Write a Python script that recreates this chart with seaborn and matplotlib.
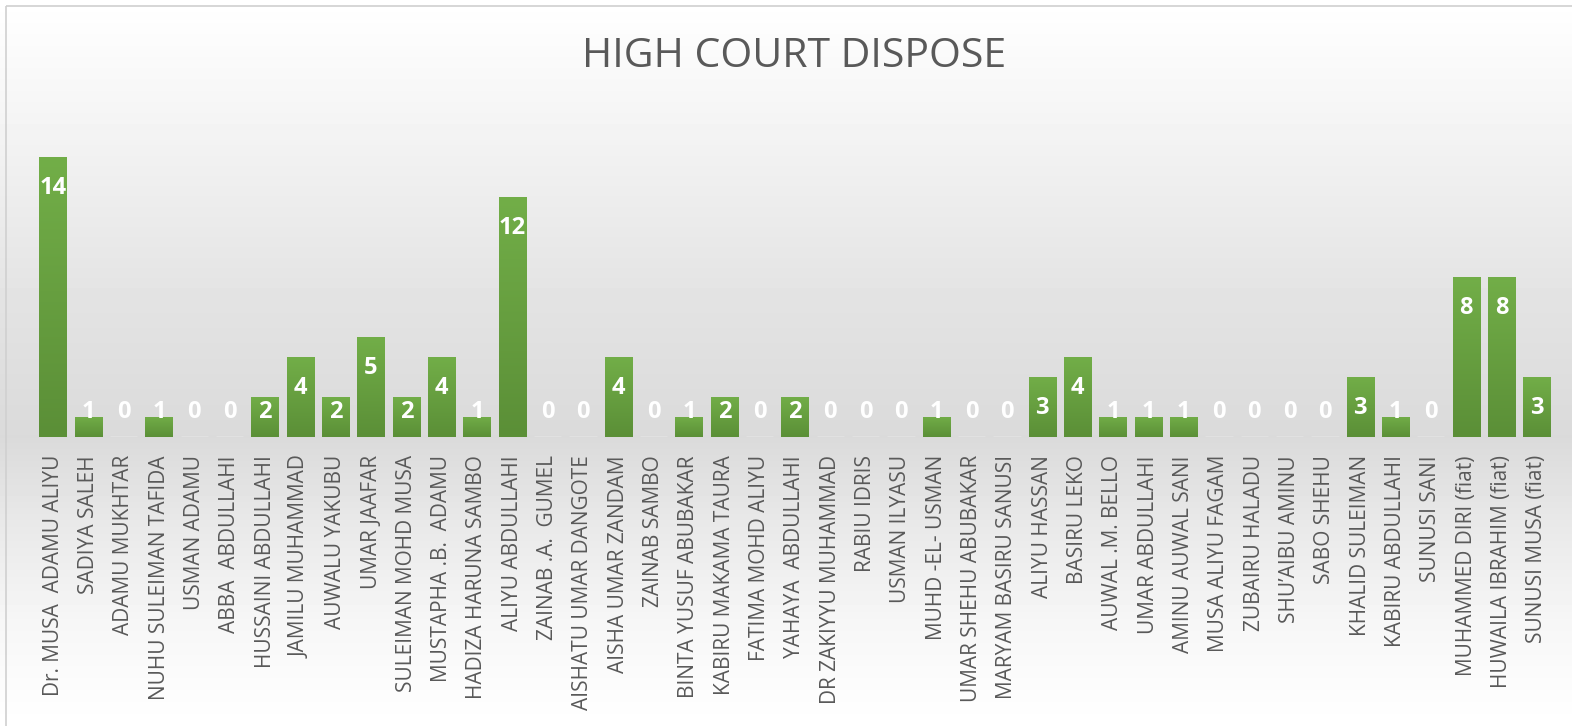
import numpy as np
import matplotlib
matplotlib.use("Agg")
import matplotlib.pyplot as plt
import seaborn as sns
from matplotlib.colors import LinearSegmentedColormap
from matplotlib.patches import Rectangle

judges = [
    "Dr. MUSA  ADAMU ALIYU", "SADIYA SALEH", "ADAMU MUKHTAR", "NUHU SULEIMAN TAFIDA",
    "USMAN ADAMU", "ABBA  ABDULLAHI", "HUSSAINI ABDULLAHI", "JAMILU MUHAMMAD",
    "AUWALU YAKUBU", "UMAR JAAFAR", "SULEIMAN MOHD MUSA", "MUSTAPHA .B.  ADAMU",
    "HADIZA HARUNA SAMBO", "ALIYU ABDULLAHI", "ZAINAB .A.  GUMEL", "AISHATU UMAR DANGOTE",
    "AISHA UMAR ZANDAM", "ZAINAB SAMBO", "BINTA YUSUF ABUBAKAR", "KABIRU MAKAMA TAURA",
    "FATIMA MOHD ALIYU", "YAHAYA  ABDULLAHI", "DR ZAKIYYU MUHAMMAD", "RABIU IDRIS",
    "USMAN ILYASU", "MUHD -EL- USMAN", "UMAR SHEHU ABUBAKAR", "MARYAM BASIRU SANUSI",
    "ALIYU HASSAN", "BASIRU LEKO", "AUWAL .M. BELLO", "UMAR ABDULLAHI",
    "AMINU AUWAL SANI", "MUSA ALIYU FAGAM", "ZUBAIRU HALADU", "SHU\u2019AIBU AMINU",
    "SABO SHEHU", "KHALID SULEIMAN", "KABIRU ABDULLAHI", "SUNUSI SANI",
    "MUHAMMED DIRI (fiat)", "HUWAILA IBRAHIM (fiat)", "SUNUSI MUSA (fiat)",
]
disposed = [14, 1, 0, 1, 0, 0, 2, 4, 2, 5, 2, 4, 1, 12, 0, 0, 4, 0, 1, 2, 0, 2,
            0, 0, 0, 1, 0, 0, 3, 4, 1, 1, 1, 0, 0, 0, 0, 3, 1, 0, 8, 8, 3]

sns.set_style("white")
plt.rcParams["font.family"] = ["Open Sans", "DejaVu Sans"]

fig = plt.figure(figsize=(15.72, 7.26), dpi=100)

# background gradient (white -> grey at baseline -> white)
bg = fig.add_axes([0, 0, 1, 1], zorder=-5)
ys = np.array([0, 130, 300, 437, 520, 620, 726]) / 726
vals = np.array([1.0, 0.955, 0.89, 0.855, 0.91, 0.965, 1.0])
grad = np.interp(np.linspace(0, 1, 726), ys, vals)[:, None]
bg.imshow(grad, cmap="gray", vmin=0, vmax=1, aspect="auto", extent=[0, 1, 1, 0])
bg.set_xlim(0, 1)
bg.set_ylim(1, 0)
bg.axis("off")
bg.add_patch(Rectangle((6 / 1572, 6 / 726), 1.2, 1.2, fill=False,
                       edgecolor="#d0d0d0", linewidth=1.2))

ax = fig.add_axes([0.0225, 0.398, 0.9664, 0.441])
ax.patch.set_alpha(0)
sns.barplot(x=judges, y=disposed, ax=ax, color="#68a042", width=0.77,
            saturation=1, errorbar=None)

# vertical gradient in bars
green = LinearSegmentedColormap.from_list("g", ["#5b8f37", "#72ae48"])
for p in ax.patches:
    x0, w, h = p.get_x(), p.get_width(), p.get_height()
    if h <= 0:
        continue
    im = ax.imshow(np.linspace(0, 1, 100)[:, None], cmap=green, origin="lower",
                   extent=[x0, x0 + w, 0, h], aspect="auto", zorder=2)
    im.set_clip_path(p)
    p.set_facecolor("none")
    p.set_edgecolor("none")
ax.set_ylim(0, 16)
ax.set_xlim(-0.5, len(judges) - 0.5)
ax.set_aspect("auto")

for i, v in enumerate(disposed):
    ax.text(i, max(v - 1.55, 1.25), str(v), ha="center", va="center",
            color="white", fontsize=17, fontweight="bold", zorder=3)

sns.despine(ax=ax, left=True, bottom=True)
ax.set_yticks([])
ax.set_xlabel("")
ax.set_ylabel("")
ax.tick_params(axis="x", length=0, pad=13, labelsize=15, labelcolor="#595959")
plt.setp(ax.get_xticklabels(), rotation=90)

fig.text(0.505, 1 - 57 / 726, "HIGH COURT DISPOSE", ha="center", va="center",
         fontsize=29.5, color="#595959")

fig.savefig("out.png", dpi=100)
